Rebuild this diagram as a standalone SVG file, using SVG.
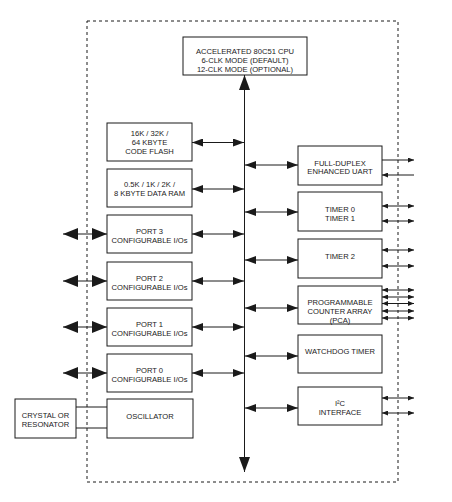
<svg xmlns="http://www.w3.org/2000/svg" width="452" height="502" viewBox="0 0 452 502">
<style>
.b{fill:#fff;stroke:#1a1a1a;stroke-width:1}
.t{font-family:"Liberation Sans",Arial,sans-serif;font-size:7.6px;fill:#1a1a1a;text-anchor:middle}
.l{stroke:#1a1a1a;stroke-width:1;fill:none}
.am{marker-start:url(#am);marker-end:url(#am)}
.ab{marker-start:url(#ab);marker-end:url(#ab)}
.as{marker-start:url(#as);marker-end:url(#as)}
</style>
<defs>
<marker id="am" viewBox="0 0 11 8" refX="11" refY="4" markerWidth="11" markerHeight="8" markerUnits="userSpaceOnUse" orient="auto-start-reverse"><path d="M0,0 L11,4 L0,8 z" fill="#1a1a1a"/></marker>
<marker id="ab" viewBox="0 0 15 12" refX="15" refY="6" markerWidth="15" markerHeight="12" markerUnits="userSpaceOnUse" orient="auto-start-reverse"><path d="M0,0 L15,6 L0,12 z" fill="#1a1a1a"/></marker>
<marker id="abus" viewBox="0 0 15 11" refX="15" refY="5.5" markerWidth="15" markerHeight="11" markerUnits="userSpaceOnUse" orient="auto-start-reverse"><path d="M0,0 L15,5.5 L0,11 z" fill="#1a1a1a"/></marker>
<marker id="as" viewBox="0 0 6 5" refX="6" refY="2.5" markerWidth="6" markerHeight="5" markerUnits="userSpaceOnUse" orient="auto-start-reverse"><path d="M0,0 L6,2.5 L0,5 z" fill="#1a1a1a"/></marker>
</defs>
<rect width="452" height="502" fill="#fff"/>
<rect x="87" y="21" width="311" height="461" fill="none" stroke="#1a1a1a" stroke-width="1" stroke-dasharray="3,3"/>

<g id="connectors">
<line class="l" x1="244.5" y1="75" x2="244.5" y2="472" stroke-width="1.3" marker-start="url(#abus)" marker-end="url(#abus)"/>
<line class="l am" x1="192" y1="142.5" x2="244" y2="142.5"/>
<line class="l am" x1="192" y1="189" x2="244" y2="189"/>
<line class="l am" x1="192" y1="234" x2="244" y2="234"/>
<line class="l am" x1="192" y1="281" x2="244" y2="281"/>
<line class="l am" x1="192" y1="327" x2="244" y2="327"/>
<line class="l am" x1="192" y1="373" x2="244" y2="373"/>
<line class="l ab" x1="63" y1="234" x2="107" y2="234"/>
<line class="l ab" x1="63" y1="281" x2="107" y2="281"/>
<line class="l ab" x1="63" y1="327" x2="107" y2="327"/>
<line class="l ab" x1="63" y1="373" x2="107" y2="373"/>
<line class="l" x1="76" y1="407" x2="107" y2="407"/>
<line class="l" x1="76" y1="428" x2="107" y2="428"/>
<line class="l am" x1="245" y1="165" x2="298" y2="165"/>
<line class="l am" x1="245" y1="212" x2="298" y2="212"/>
<line class="l am" x1="245" y1="260" x2="298" y2="260"/>
<line class="l am" x1="245" y1="308" x2="298" y2="308"/>
<line class="l am" x1="245" y1="356" x2="298" y2="356"/>
<line class="l am" x1="245" y1="408" x2="298" y2="408"/>
<line class="l" x1="382" y1="160" x2="414" y2="160" marker-end="url(#as)"/>
<line class="l" x1="382" y1="175" x2="414" y2="175" marker-start="url(#as)"/>
<line class="l as" x1="382" y1="206" x2="414" y2="206"/>
<line class="l as" x1="382" y1="221" x2="414" y2="221"/>
<line class="l as" x1="382" y1="250" x2="414" y2="250"/>
<line class="l as" x1="382" y1="266" x2="414" y2="266"/>
<line class="l as" x1="382" y1="290" x2="414" y2="290"/>
<line class="l as" x1="382" y1="297" x2="414" y2="297"/>
<line class="l as" x1="382" y1="303.5" x2="414" y2="303.5"/>
<line class="l as" x1="382" y1="311" x2="414" y2="311"/>
<line class="l as" x1="382" y1="318" x2="414" y2="318"/>
<line class="l as" x1="382" y1="398" x2="414" y2="398"/>
<line class="l as" x1="382" y1="413" x2="414" y2="413"/>
</g>

<g id="cpu">
<rect class="b" x="183" y="37" width="124" height="38"/>
<text class="t" x="245" y="53.5">ACCELERATED 80C51 CPU</text>
<text class="t" x="245" y="62.5">6-CLK MODE (DEFAULT)</text>
<text class="t" x="245" y="71.5">12-CLK MODE (OPTIONAL)</text>
</g>
<g id="flash">
<rect class="b" x="107" y="123" width="85" height="38"/>
<text class="t" x="149.5" y="135.5">16K / 32K /</text>
<text class="t" x="149.5" y="144.5">64 KBYTE</text>
<text class="t" x="149.5" y="153.5">CODE FLASH</text>
</g>
<g id="ram">
<rect class="b" x="107" y="169" width="85" height="38"/>
<text class="t" x="149.5" y="186.5">0.5K / 1K / 2K /</text>
<text class="t" x="149.5" y="195.5">8 KBYTE DATA RAM</text>
</g>
<g id="port3">
<rect class="b" x="107" y="215" width="85" height="38"/>
<text class="t" x="149.5" y="233.5">PORT 3</text>
<text class="t" x="149.5" y="242.5">CONFIGURABLE I/Os</text>
</g>
<g id="port2">
<rect class="b" x="107" y="262" width="85" height="38"/>
<text class="t" x="149.5" y="280.5">PORT 2</text>
<text class="t" x="149.5" y="289.5">CONFIGURABLE I/Os</text>
</g>
<g id="port1">
<rect class="b" x="107" y="308" width="85" height="38"/>
<text class="t" x="149.5" y="326.5">PORT 1</text>
<text class="t" x="149.5" y="335.5">CONFIGURABLE I/Os</text>
</g>
<g id="port0">
<rect class="b" x="107" y="354" width="85" height="38"/>
<text class="t" x="149.5" y="372.5">PORT 0</text>
<text class="t" x="149.5" y="381.5">CONFIGURABLE I/Os</text>
</g>
<g id="oscillator">
<rect class="b" x="107" y="399" width="86" height="39"/>
<text class="t" x="150" y="419">OSCILLATOR</text>
</g>
<g id="crystal">
<rect class="b" x="15" y="399" width="61" height="39"/>
<text class="t" x="45.5" y="418">CRYSTAL OR</text>
<text class="t" x="45.5" y="426.5">RESONATOR</text>
</g>
<g id="uart">
<rect class="b" x="298" y="146" width="84" height="39"/>
<text class="t" x="340" y="166">FULL-DUPLEX</text>
<text class="t" x="340" y="174">ENHANCED UART</text>
</g>
<g id="timer01">
<rect class="b" x="298" y="192" width="84" height="39"/>
<text class="t" x="340" y="212">TIMER 0</text>
<text class="t" x="340" y="221">TIMER 1</text>
</g>
<g id="timer2">
<rect class="b" x="298" y="239" width="84" height="39"/>
<text class="t" x="340" y="259">TIMER 2</text>
</g>
<g id="pca">
<rect class="b" x="298" y="286" width="84" height="38"/>
<text class="t" x="340" y="305">PROGRAMMABLE</text>
<text class="t" x="340" y="314">COUNTER ARRAY</text>
<text class="t" x="340" y="322.5">(PCA)</text>
</g>
<g id="watchdog">
<rect class="b" x="298" y="335" width="84" height="38"/>
<text class="t" x="340" y="353.5">WATCHDOG TIMER</text>
</g>
<g id="i2c">
<rect class="b" x="298" y="387" width="84" height="38"/>
<text class="t" x="340" y="406">I²C</text>
<text class="t" x="340" y="415">INTERFACE</text>
</g>
</svg>
